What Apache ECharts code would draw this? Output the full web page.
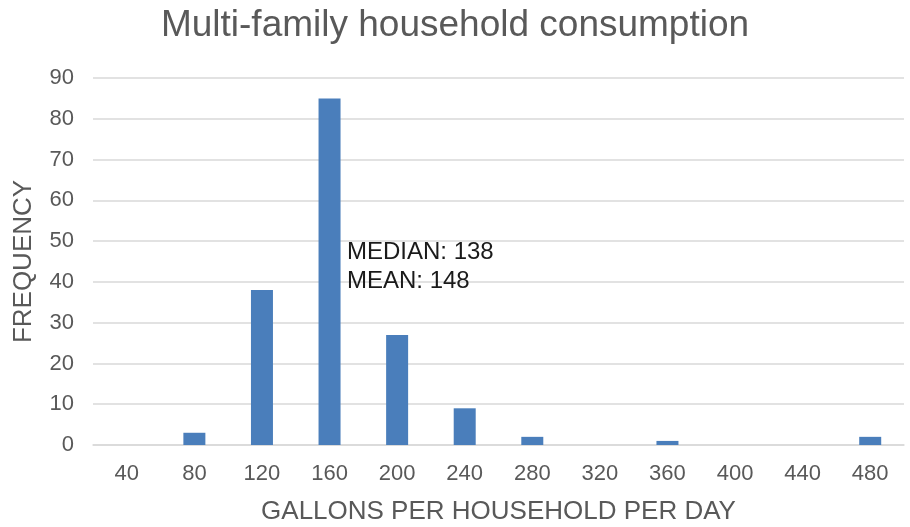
<!DOCTYPE html>
<html>
<head>
<meta charset="utf-8">
<script src="https://cdn.jsdelivr.net/npm/echarts@6/dist/echarts.min.js"></script>
<style>
  html, body { margin: 0; padding: 0; background: #fff; }
  #chart { width: 910px; height: 527px; }
</style>
</head>
<body>
<div id="chart"></div>
<script>
// gallons per household per day (bin labels)
const categories = ['40', '80', '120', '160', '200', '240', '280', '320', '360', '400', '440', '480']
// frequency per bin
const frequency = [0, 3, 38, 85, 27, 9, 2, 0, 1, 0, 0, 2]
const yTicks = { min: 0, max: 90, interval: 10 }
const noteLines = ['MEDIAN: 138', 'MEAN: 148']

const font = 'Liberation Sans, Arial, sans-serif'
const grey = '#595959'

const chart = echarts.init(document.getElementById('chart'))
const option = {
  backgroundColor: '#fff',
  animation: false,
  title: {
    text: 'Multi-family household consumption',
    left: 'center',
    top: 2,
    textStyle: { fontFamily: font, fontSize: 37, fontWeight: 'normal', color: grey }
  },
  grid: {
    left: 93,
    right: 6,
    top: 78,
    bottom: 82,
    outerBoundsMode: 'none'
  },
  xAxis: {
    type: 'category',
    data: categories,
    name: 'GALLONS PER HOUSEHOLD PER DAY',
    nameLocation: 'middle',
    nameGap: 54,
    nameTextStyle: { fontFamily: font, fontSize: 26, color: grey },
    axisTick: { show: false },
    axisLine: { lineStyle: { color: '#d9d9d9', width: 1.5 } },
    axisLabel: { fontFamily: font, fontSize: 22, color: grey, margin: 18 }
  },
  yAxis: {
    type: 'value',
    min: yTicks.min,
    max: yTicks.max,
    interval: yTicks.interval,
    name: 'FREQUENCY',
    nameLocation: 'middle',
    nameGap: 56,
    nameTextStyle: { fontFamily: font, fontSize: 26, color: grey },
    axisLine: { show: false },
    axisTick: { show: false },
    axisLabel: { fontFamily: font, fontSize: 22, color: grey, margin: 19 },
    splitLine: { lineStyle: { color: '#d9d9d9', width: 1.5 } }
  },
  graphic: [
    {
      type: 'text',
      left: 347,
      top: 238,
      z: 10,
      style: {
        text: noteLines.join('\n'),
        fontFamily: font,
        fontSize: 24,
        lineHeight: 29,
        fill: '#1a1a1a'
      }
    }
  ],
  series: [
    {
      type: 'bar',
      name: 'FREQUENCY',
      data: frequency,
      barWidth: 22,
      itemStyle: { color: '#4a7ebb' }
    }
  ]
}
chart.setOption(option)
</script>
</body>
</html>
